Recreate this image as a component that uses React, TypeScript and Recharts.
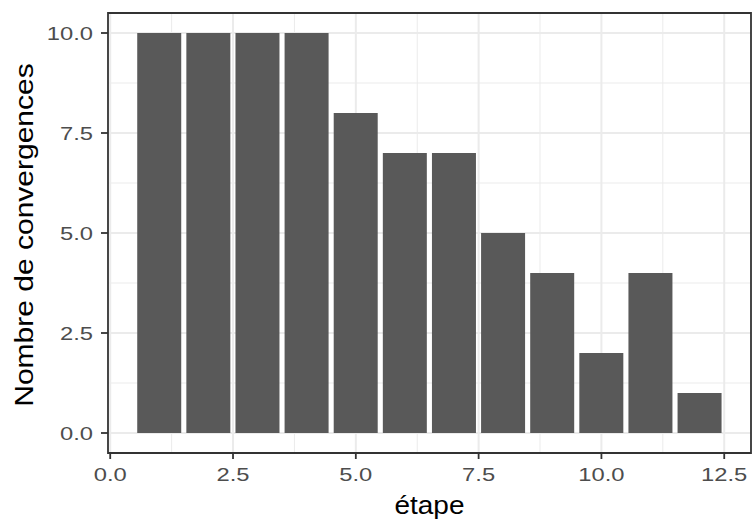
import { BarChart, Bar, XAxis, YAxis, CartesianGrid, ReferenceArea } from 'recharts';

const ETAPES = [1, 2, 3, 4, 5, 6, 7, 8, 9, 10, 11, 12];
const CONVERGENCES = [10, 10, 10, 10, 8, 7, 7, 5, 4, 2, 4, 1];

const X_TICKS = [0, 2.5, 5, 7.5, 10, 12.5];
const X_MINOR = [1.25, 3.75, 6.25, 8.75, 11.25];
const Y_TICKS = [0, 2.5, 5, 7.5, 10];
const Y_MINOR = [1.25, 3.75, 6.25, 8.75];

// ggplot-style expanded domains
const X_DOMAIN: [number, number] = [-0.045, 13.045];
const Y_DOMAIN: [number, number] = [-0.5, 10.5];

const FONT = '"Liberation Sans", Arial, Helvetica, sans-serif';
const TICK_COLOR = '#4D4D4D';
const LINE_DARK = '#333333';
const GRID = '#EBEBEB';

const data = ETAPES.map((e, i) => ({ etape: e, n: CONVERGENCES[i] }));

const stretch = (x: number, y: number, sx: number) =>
  `translate(${x} ${y}) scale(${sx} 1) translate(${-x} ${-y})`;

const XTick = ({ x, y, payload }: any) => (
  <text
    x={x} y={y} dy="0.71em" textAnchor="middle"
    fill={TICK_COLOR} fontSize={19} fontFamily={FONT}
    transform={stretch(x, y, 1.25)}
  >
    {Number(payload.value).toFixed(1)}
  </text>
);

const YTick = ({ x, y, payload }: any) => (
  <text
    x={x} y={y} dy="0.355em" textAnchor="end"
    fill={TICK_COLOR} fontSize={19} fontFamily={FONT}
    transform={stretch(x, y, 1.25)}
  >
    {Number(payload.value).toFixed(1)}
  </text>
);

const XTitle = ({ viewBox }: any) => {
  const cx = viewBox.x + viewBox.width / 2;
  const cy = viewBox.y + 61;
  return (
    <text
      x={cx} y={cy} textAnchor="middle" fill="#000" fontSize={25} fontFamily={FONT}
      transform={stretch(cx, cy, 1.12)}
    >
      étape
    </text>
  );
};

const YTitle = ({ viewBox }: any) => {
  const cy = viewBox.y + viewBox.height / 2 + 2;
  return (
    <text
      x={0} y={0} textAnchor="middle" fill="#000" fontSize={25} fontFamily={FONT}
      transform={`translate(33 ${cy}) rotate(-90) scale(1.2 1)`}
    >
      Nombre de convergences
    </text>
  );
};

export default function App() {
  return (
    <div style={{ position: 'absolute', left: 0, top: 0, width: 752, height: 520, background: '#fff' }}>
      <BarChart
        width={752}
        height={520}
        data={data}
        margin={{ top: 13, right: 1, bottom: 0, left: 0 }}
        barCategoryGap="5%"
      >
        <CartesianGrid
          horizontalValues={Y_MINOR}
          verticalValues={X_MINOR}
          stroke={GRID}
          strokeWidth={1}
        />
        <CartesianGrid
          horizontalValues={Y_TICKS}
          verticalValues={X_TICKS}
          stroke={GRID}
          strokeWidth={2}
        />
        <XAxis
          dataKey="etape"
          type="number"
          domain={X_DOMAIN}
          allowDataOverflow
          ticks={X_TICKS}
          interval={0}
          axisLine={false}
          tickLine={{ stroke: LINE_DARK, strokeWidth: 1.8 }}
          tickSize={6}
          tickMargin={9}
          tick={<XTick />}
          height={67}
          label={<XTitle />}
        />
        <YAxis
          type="number"
          domain={Y_DOMAIN}
          allowDataOverflow
          ticks={Y_TICKS}
          interval={0}
          axisLine={false}
          tickLine={{ stroke: LINE_DARK, strokeWidth: 1.8 }}
          tickSize={7}
          tickMargin={8}
          tick={<YTick />}
          width={108}
          label={<YTitle />}
        />
        <Bar dataKey="n" fill="#595959" isAnimationActive={false} />
        <ReferenceArea
          x1={X_DOMAIN[0]} x2={X_DOMAIN[1]}
          y1={Y_DOMAIN[0]} y2={Y_DOMAIN[1]}
          fill="none" fillOpacity={0}
          stroke={LINE_DARK} strokeWidth={1.8}
          ifOverflow="visible"
        />
      </BarChart>
    </div>
  );
}
